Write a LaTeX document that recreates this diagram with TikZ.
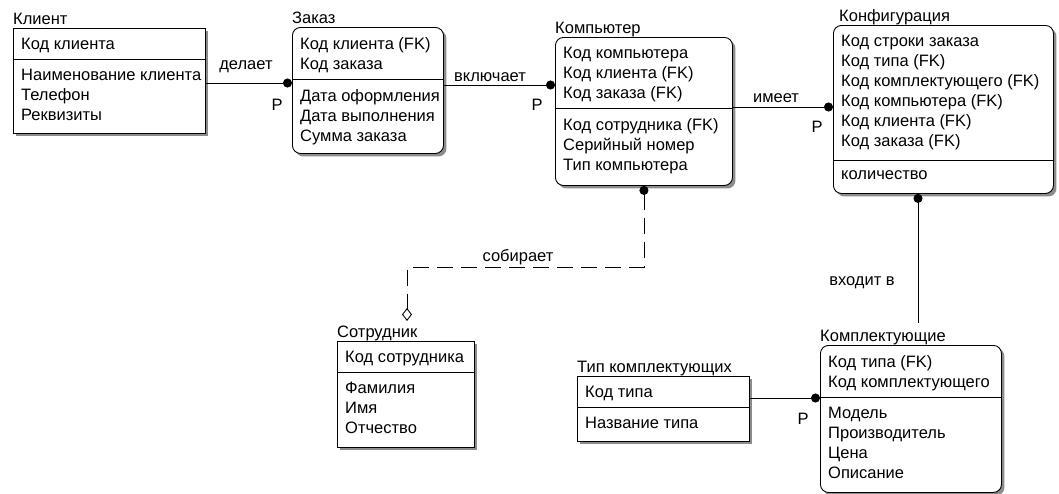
\documentclass[tikz,border=0pt]{standalone}
\usepackage{fontspec}
\setmainfont{Liberation Sans}
\usetikzlibrary{arrows.meta,shadows,positioning}

\tikzset{
  entity/.style={draw, fill=white, line width=0.9pt, anchor=north west, inner sep=0pt,
    drop shadow={shadow xshift=3pt, shadow yshift=-3pt, fill=black!45, opacity=1}},
  depentity/.style={entity, rounded corners=8pt},
  enttitle/.style={anchor=base west, inner sep=0pt},
  fields/.style={anchor=north west, inner sep=0pt, align=left},
  rel/.style={line width=0.9pt},
  reldot/.style={-{Circle[length=9pt]}},
}

\begin{document}
\begin{tikzpicture}[x=1pt, y=-1pt, font=\fontsize{16.5}{20}\selectfont]
  \useasboundingbox (0,0) rectangle (1059,493);

  % Клиент
  \node (klient) [entity, minimum width=192pt, minimum height=105pt] at (13,28) {};
  \node (klient-t) [enttitle] at ([yshift=4pt]klient.north west) {Клиент};
  \draw [rel] ([yshift=-31pt]klient.north west) -- ([yshift=-31pt]klient.north east);
  \node (klient-k) [fields] at ([shift={(8pt,-10pt)}]klient.north west) {Код клиента};
  \node (klient-a) [fields] at ([shift={(8pt,-41pt)}]klient.north west) {Наименование клиента\\Телефон\\Реквизиты};

  % Заказ
  \node (zakaz) [depentity, minimum width=151pt, minimum height=126pt] at (292,27) {};
  \node (zakaz-t) [enttitle] at ([yshift=4pt]zakaz.north west) {Заказ};
  \draw [rel] ([yshift=-52pt]zakaz.north west) -- ([yshift=-52pt]zakaz.north east);
  \node (zakaz-k) [fields] at ([shift={(8pt,-10pt)}]zakaz.north west) {Код клиента (FK)\\Код заказа};
  \node (zakaz-a) [fields] at ([shift={(8pt,-62pt)}]zakaz.north west) {Дата оформления\\Дата выполнения\\Сумма заказа};

  % Компьютер
  \node (komp) [depentity, minimum width=177pt, minimum height=148pt] at (555,37) {};
  \node (komp-t) [enttitle] at ([yshift=4pt]komp.north west) {Компьютер};
  \draw [rel] ([yshift=-71pt]komp.north west) -- ([yshift=-71pt]komp.north east);
  \node (komp-k) [fields] at ([shift={(8pt,-10pt)}]komp.north west) {Код компьютера\\Код клиента (FK)\\Код заказа (FK)};
  \node (komp-a) [fields] at ([shift={(8pt,-81pt)}]komp.north west) {Код сотрудника (FK)\\Серийный номер\\Тип компьютера};

  % Конфигурация
  \node (konf) [depentity, minimum width=220pt, minimum height=168pt] at (833,25) {};
  \node (konf-t) [enttitle] at ([shift={(6pt,4pt)}]konf.north west) {Конфигурация};
  \draw [rel] ([yshift=-135pt]konf.north west) -- ([yshift=-135pt]konf.north east);
  \node (konf-k) [fields] at ([shift={(8pt,-10pt)}]konf.north west) {Код строки заказа\\Код типа (FK)\\Код комплектующего (FK)\\Код компьютера (FK)\\Код клиента (FK)\\Код заказа (FK)};
  \node (konf-a) [fields] at ([shift={(8pt,-145pt)}]konf.north west) {количество};

  % Сотрудник
  \node (sotr) [entity, minimum width=137pt, minimum height=106pt] at (337,341) {};
  \node (sotr-t) [enttitle] at ([yshift=4pt]sotr.north west) {Сотрудник};
  \draw [rel] ([yshift=-31pt]sotr.north west) -- ([yshift=-31pt]sotr.north east);
  \node (sotr-k) [fields] at ([shift={(8pt,-10pt)}]sotr.north west) {Код сотрудника};
  \node (sotr-a) [fields] at ([shift={(8pt,-41pt)}]sotr.north west) {Фамилия\\Имя\\Отчество};

  % Тип комплектующих
  \node (tipk) [entity, minimum width=172pt, minimum height=65pt] at (577,376) {};
  \node (tipk-t) [enttitle] at ([yshift=4pt]tipk.north west) {Тип комплектующих};
  \draw [rel] ([yshift=-31pt]tipk.north west) -- ([yshift=-31pt]tipk.north east);
  \node (tipk-k) [fields] at ([shift={(8pt,-10pt)}]tipk.north west) {Код типа};
  \node (tipk-a) [fields] at ([shift={(8pt,-41pt)}]tipk.north west) {Название типа};

  % Комплектующие
  \node (kompl) [depentity, minimum width=181pt, minimum height=147pt] at (820,345) {};
  \node (kompl-t) [enttitle] at ([yshift=4pt]kompl.north west) {Комплектующие};
  \draw [rel] ([yshift=-52pt]kompl.north west) -- ([yshift=-52pt]kompl.north east);
  \node (kompl-k) [fields] at ([shift={(8pt,-10pt)}]kompl.north west) {Код типа (FK)\\Код комплектующего};
  \node (kompl-a) [fields] at ([shift={(8pt,-62pt)}]kompl.north west) {Модель\\Производитель\\Цена\\Описание};

  % связи
  \draw [rel, reldot] (klient.east |- 0,83) -- (zakaz.west |- 0,83);
  \node (delaet) at (246,67) {делает};
  \node (delaet-p) at (277,105) {P};

  \draw [rel, reldot] (zakaz.east |- 0,85) -- (komp.west |- 0,85);
  \node (vkluch) at (490,77) {включает};
  \node (vkluch-p) at (537,105) {P};

  \draw [rel, reldot] (komp.east |- 0,107) -- (konf.west |- 0,107);
  \node (imeet) at (776,98) {имеет};
  \node (imeet-p) at (817,127) {P};

  \coordinate (sobir-end) at (407,321);
  \draw [rel, dash pattern=on 16pt off 8pt, {Circle[length=9pt]}-{Diamond[open, length=13pt, width=10pt]}]
    (komp.south) -- ++(0,82) -| (sobir-end);
  \node (sobir) at (518,257) {собирает};

  \coordinate (vhod-end) at (918,323);
  \draw [rel, {Circle[length=9pt]}-] (konf.south -| vhod-end) -- (vhod-end);
  \node (vhod) at (862,283) {входит в};

  \draw [rel, reldot] (tipk.east |- 0,398) -- (kompl.west |- 0,398);
  \node (tipk-p) at (803,419) {P};
\end{tikzpicture}
\end{document}
